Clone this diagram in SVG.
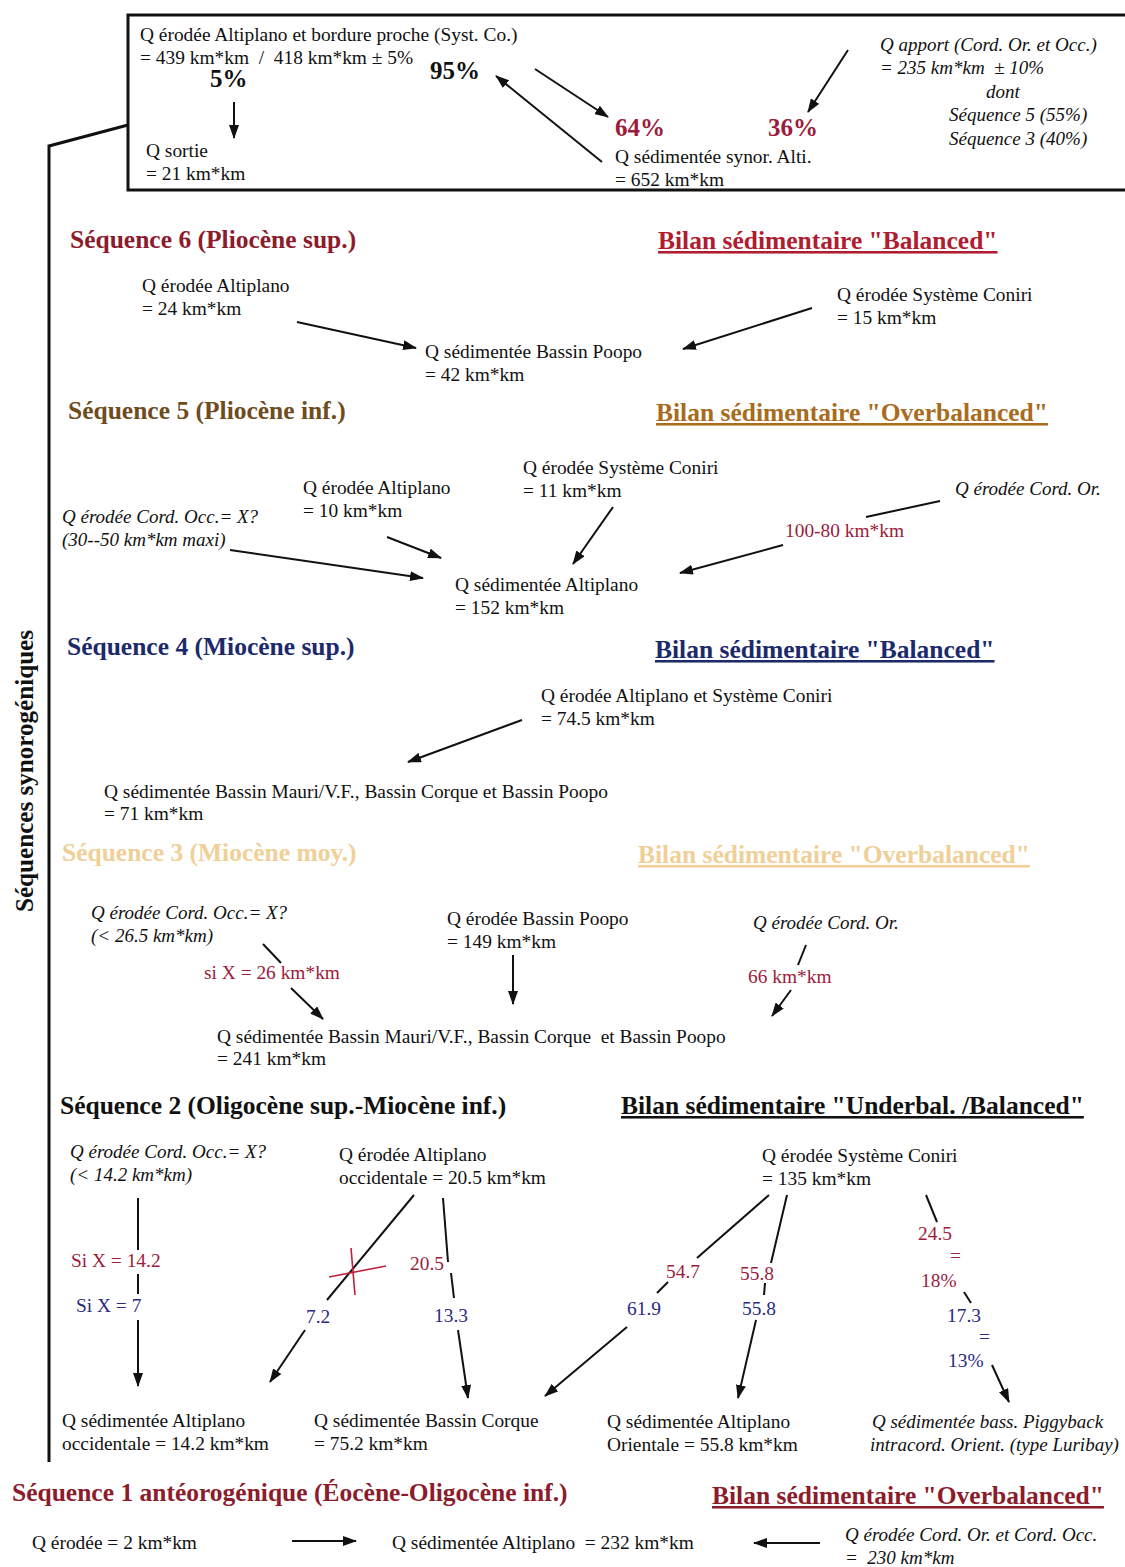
<svg xmlns="http://www.w3.org/2000/svg" width="1125" height="1567" viewBox="0 0 1125 1567">
<defs>
<marker id="ah" markerUnits="userSpaceOnUse" markerWidth="14" markerHeight="10" refX="13" refY="5" orient="auto">
<path d="M0,0 L14,5 L0,10 z" fill="#111"/>
</marker>
<style>
text{font-family:"Liberation Serif","Times New Roman",serif;font-size:19.4px;fill:#111}
.i{font-style:italic;font-size:19px}
.h{font-size:25.5px;font-weight:bold}
.u{text-decoration:underline}
.p{font-size:25px;font-weight:bold}
.r{fill:#9c1c3c}
.b{fill:#2a2a80}
.s6{fill:#8c1c2c}
.b6{fill:#b01c30}
.s5{fill:#6e4c1e}
.b5{fill:#a86c1c}
.s4{fill:#1c2a6c}
.s3{fill:#f0cf98}
.c{stroke:#111;stroke-width:2;fill:none}
.a{stroke:#111;stroke-width:2;fill:none;marker-end:url(#ah)}
.x{stroke:#c0203a;stroke-width:1.6;fill:none}
</style>
</defs>
<rect width="1125" height="1567" fill="#fff"/>

<g id="frame">
<rect x="128" y="15" width="1010" height="175" fill="none" stroke="#111" stroke-width="3"/>
<polyline points="128,125 49,146 49,1462" fill="none" stroke="#111" stroke-width="3"/>
<text transform="translate(33,912) rotate(-90)" class="h" textLength="282" lengthAdjust="spacingAndGlyphs">Séquences synorogéniques</text>
</g>

<g id="connectors">
<line class="a" x1="234" y1="102" x2="234" y2="138"/>
<line class="a" x1="535" y1="69" x2="608" y2="117"/>
<line class="a" x1="602" y1="162" x2="496" y2="76"/>
<line class="a" x1="848" y1="50" x2="808" y2="112"/>
<line class="a" x1="297" y1="322" x2="416" y2="348"/>
<line class="a" x1="812" y1="308" x2="683" y2="349"/>
<line class="a" x1="387" y1="537" x2="441" y2="558"/>
<line class="a" x1="230" y1="550" x2="423" y2="578"/>
<line class="a" x1="613" y1="507" x2="573" y2="564"/>
<line class="c" x1="940" y1="501" x2="866" y2="517"/>
<line class="a" x1="783" y1="545" x2="680" y2="573"/>
<line class="a" x1="522" y1="720" x2="408" y2="762"/>
<line class="c" x1="263" y1="944" x2="281" y2="963"/>
<line class="a" x1="291" y1="988" x2="323" y2="1019"/>
<line class="a" x1="513" y1="955" x2="513" y2="1004"/>
<line class="c" x1="806" y1="945" x2="798" y2="965"/>
<line class="a" x1="791" y1="990" x2="772" y2="1016"/>
<line class="c" x1="138" y1="1198" x2="138" y2="1250"/>
<line class="c" x1="138" y1="1274" x2="138" y2="1294"/>
<line class="a" x1="138" y1="1320" x2="138" y2="1386"/>
<line class="c" x1="414" y1="1195" x2="327" y2="1300"/>
<line class="a" x1="305" y1="1330" x2="270" y2="1382"/>
<line class="x" x1="329" y1="1277" x2="386" y2="1266"/>
<line class="x" x1="351" y1="1248" x2="355" y2="1295"/>
<line class="c" x1="443" y1="1198" x2="448" y2="1262"/>
<line class="c" x1="451" y1="1273" x2="454" y2="1298"/>
<line class="a" x1="458" y1="1330" x2="468" y2="1398"/>
<line class="c" x1="769" y1="1195" x2="697" y2="1258"/>
<line class="c" x1="668" y1="1282" x2="657" y2="1293"/>
<line class="a" x1="627" y1="1327" x2="545" y2="1396"/>
<line class="c" x1="787" y1="1195" x2="771" y2="1263"/>
<line class="c" x1="765" y1="1283" x2="764" y2="1295"/>
<line class="a" x1="756" y1="1320" x2="738" y2="1398"/>
<line class="c" x1="926" y1="1195" x2="937" y2="1222"/>
<line class="c" x1="964" y1="1292" x2="971" y2="1303"/>
<line class="a" x1="992" y1="1365" x2="1009" y2="1402"/>
<line class="a" x1="292" y1="1541" x2="356" y2="1541"/>
<line class="a" x1="820" y1="1543" x2="754" y2="1543"/>
</g>

<g id="top-erodee"><text x="140" y="41">Q érodée Altiplano et bordure proche (Syst. Co.)</text><text x="140" y="64">= 439 km*km &#160;/ &#160;418 km*km ± 5%</text></g>
<g id="top-pct"><text x="210" y="87" class="p">5%</text><text x="430" y="79" class="p">95%</text><text x="615" y="136" class="p r">64%</text><text x="768" y="136" class="p r">36%</text></g>
<g id="top-sortie"><text x="146" y="157">Q sortie</text><text x="146" y="180">= 21 km*km</text></g>
<g id="top-sed"><text x="615" y="163">Q sédimentée synor. Alti.</text><text x="615" y="186">= 652 km*km</text></g>
<g id="top-apport"><text x="880" y="51" class="i">Q apport (Cord. Or. et Occ.)</text><text x="880" y="74" class="i">= 235 km*km &#160;± 10%</text><text x="986" y="98" class="i">dont</text><text x="949" y="121" class="i">Séquence 5 (55%)</text><text x="949" y="145" class="i">Séquence 3 (40%)</text></g>

<g id="seq6-head"><text x="70" y="248" class="h s6">Séquence 6 (Pliocène sup.)</text><text x="658" y="249" class="h u b6">Bilan sédimentaire "Balanced"</text></g>
<g id="s6-alti"><text x="142" y="292">Q érodée Altiplano</text><text x="142" y="315">= 24 km*km</text></g>
<g id="s6-sed"><text x="425" y="358">Q sédimentée Bassin Poopo</text><text x="425" y="381">= 42 km*km</text></g>
<g id="s6-coniri"><text x="837" y="301">Q érodée Système Coniri</text><text x="837" y="324">= 15 km*km</text></g>

<g id="seq5-head"><text x="68" y="419" class="h s5">Séquence 5 (Pliocène inf.)</text><text x="656" y="421" class="h u b5">Bilan sédimentaire "Overbalanced"</text></g>
<g id="s5-coniri"><text x="523" y="474">Q érodée Système Coniri</text><text x="523" y="497">= 11 km*km</text></g>
<g id="s5-alti"><text x="303" y="494">Q érodée Altiplano</text><text x="303" y="517">= 10 km*km</text></g>
<g id="s5-occ"><text x="62" y="523" class="i">Q érodée Cord. Occ.= X?</text><text x="62" y="546" class="i">(30--50 km*km maxi)</text></g>
<g id="s5-or"><text x="955" y="495" class="i">Q érodée Cord. Or.</text><text x="785" y="537" class="r">100-80 km*km</text></g>
<g id="s5-sed"><text x="455" y="591">Q sédimentée Altiplano</text><text x="455" y="614">= 152 km*km</text></g>

<g id="seq4-head"><text x="67" y="655" class="h s4">Séquence 4 (Miocène sup.)</text><text x="655" y="658" class="h u s4">Bilan sédimentaire "Balanced"</text></g>
<g id="s4-ero"><text x="541" y="702">Q érodée Altiplano et Système Coniri</text><text x="541" y="725">= 74.5 km*km</text></g>
<g id="s4-sed"><text x="104" y="798">Q sédimentée Bassin Mauri/V.F., Bassin Corque et Bassin Poopo</text><text x="104" y="820">= 71 km*km</text></g>

<g id="seq3-head"><text x="62" y="861" class="h s3">Séquence 3 (Miocène moy.)</text><text x="638" y="863" class="h u s3">Bilan sédimentaire "Overbalanced"</text></g>
<g id="s3-occ"><text x="91" y="919" class="i">Q érodée Cord. Occ.= X?</text><text x="91" y="942" class="i">(&lt; 26.5 km*km)</text><text x="204" y="979" class="r">si X = 26 km*km</text></g>
<g id="s3-poopo"><text x="447" y="925">Q érodée Bassin Poopo</text><text x="447" y="948">= 149 km*km</text></g>
<g id="s3-or"><text x="753" y="929" class="i">Q érodée Cord. Or.</text><text x="748" y="983" class="r">66 km*km</text></g>
<g id="s3-sed"><text x="217" y="1043">Q sédimentée Bassin Mauri/V.F., Bassin Corque &#160;et Bassin Poopo</text><text x="217" y="1065">= 241 km*km</text></g>

<g id="seq2-head"><text x="60" y="1114" class="h">Séquence 2 (Oligocène sup.-Miocène inf.)</text><text x="621" y="1114" class="h u">Bilan sédimentaire "Underbal. /Balanced"</text></g>
<g id="s2-occ"><text x="70" y="1158" class="i">Q érodée Cord. Occ.= X?</text><text x="70" y="1181" class="i">(&lt; 14.2 km*km)</text><text x="71" y="1267" class="r">Si X = 14.2</text><text x="76" y="1312" class="b">Si X = 7</text></g>
<g id="s2-alti"><text x="339" y="1161">Q érodée Altiplano</text><text x="339" y="1184">occidentale = 20.5 km*km</text><text x="410" y="1270" class="r">20.5</text><text x="306" y="1323" class="b">7.2</text><text x="434" y="1322" class="b">13.3</text></g>
<g id="s2-coniri"><text x="762" y="1162">Q érodée Système Coniri</text><text x="762" y="1185">= 135 km*km</text>
<text x="666" y="1278" class="r">54.7</text><text x="740" y="1280" class="r">55.8</text><text x="627" y="1315" class="b">61.9</text><text x="742" y="1315" class="b">55.8</text>
<text x="918" y="1240" class="r">24.5</text><text x="950" y="1262" class="r">=</text><text x="921" y="1287" class="r">18%</text>
<text x="947" y="1322" class="b">17.3</text><text x="979" y="1343" class="b">=</text><text x="948" y="1367" class="b">13%</text></g>
<g id="s2-sed-occ"><text x="62" y="1427">Q sédimentée Altiplano</text><text x="62" y="1450">occidentale = 14.2 km*km</text></g>
<g id="s2-sed-corque"><text x="314" y="1427">Q sédimentée Bassin Corque</text><text x="314" y="1450">= 75.2 km*km</text></g>
<g id="s2-sed-or"><text x="607" y="1428">Q sédimentée Altiplano</text><text x="607" y="1451">Orientale = 55.8 km*km</text></g>
<g id="s2-sed-pig"><text x="872" y="1428" class="i">Q sédimentée bass. Piggyback</text><text x="870" y="1451" class="i">intracord. Orient. (type Luribay)</text></g>

<g id="seq1-head"><text x="12" y="1501" class="h s6">Séquence 1 antéorogénique (Éocène-Oligocène inf.)</text><text x="712" y="1504" class="h u s6">Bilan sédimentaire "Overbalanced"</text></g>
<g id="s1-ero"><text x="32" y="1549">Q érodée = 2 km*km</text></g>
<g id="s1-sed"><text x="392" y="1549">Q sédimentée Altiplano &#160;= 232 km*km</text></g>
<g id="s1-cord"><text x="845" y="1541" class="i">Q érodée Cord. Or. et Cord. Occ.</text><text x="845" y="1564" class="i">= &#160;230 km*km</text></g>
</svg>
